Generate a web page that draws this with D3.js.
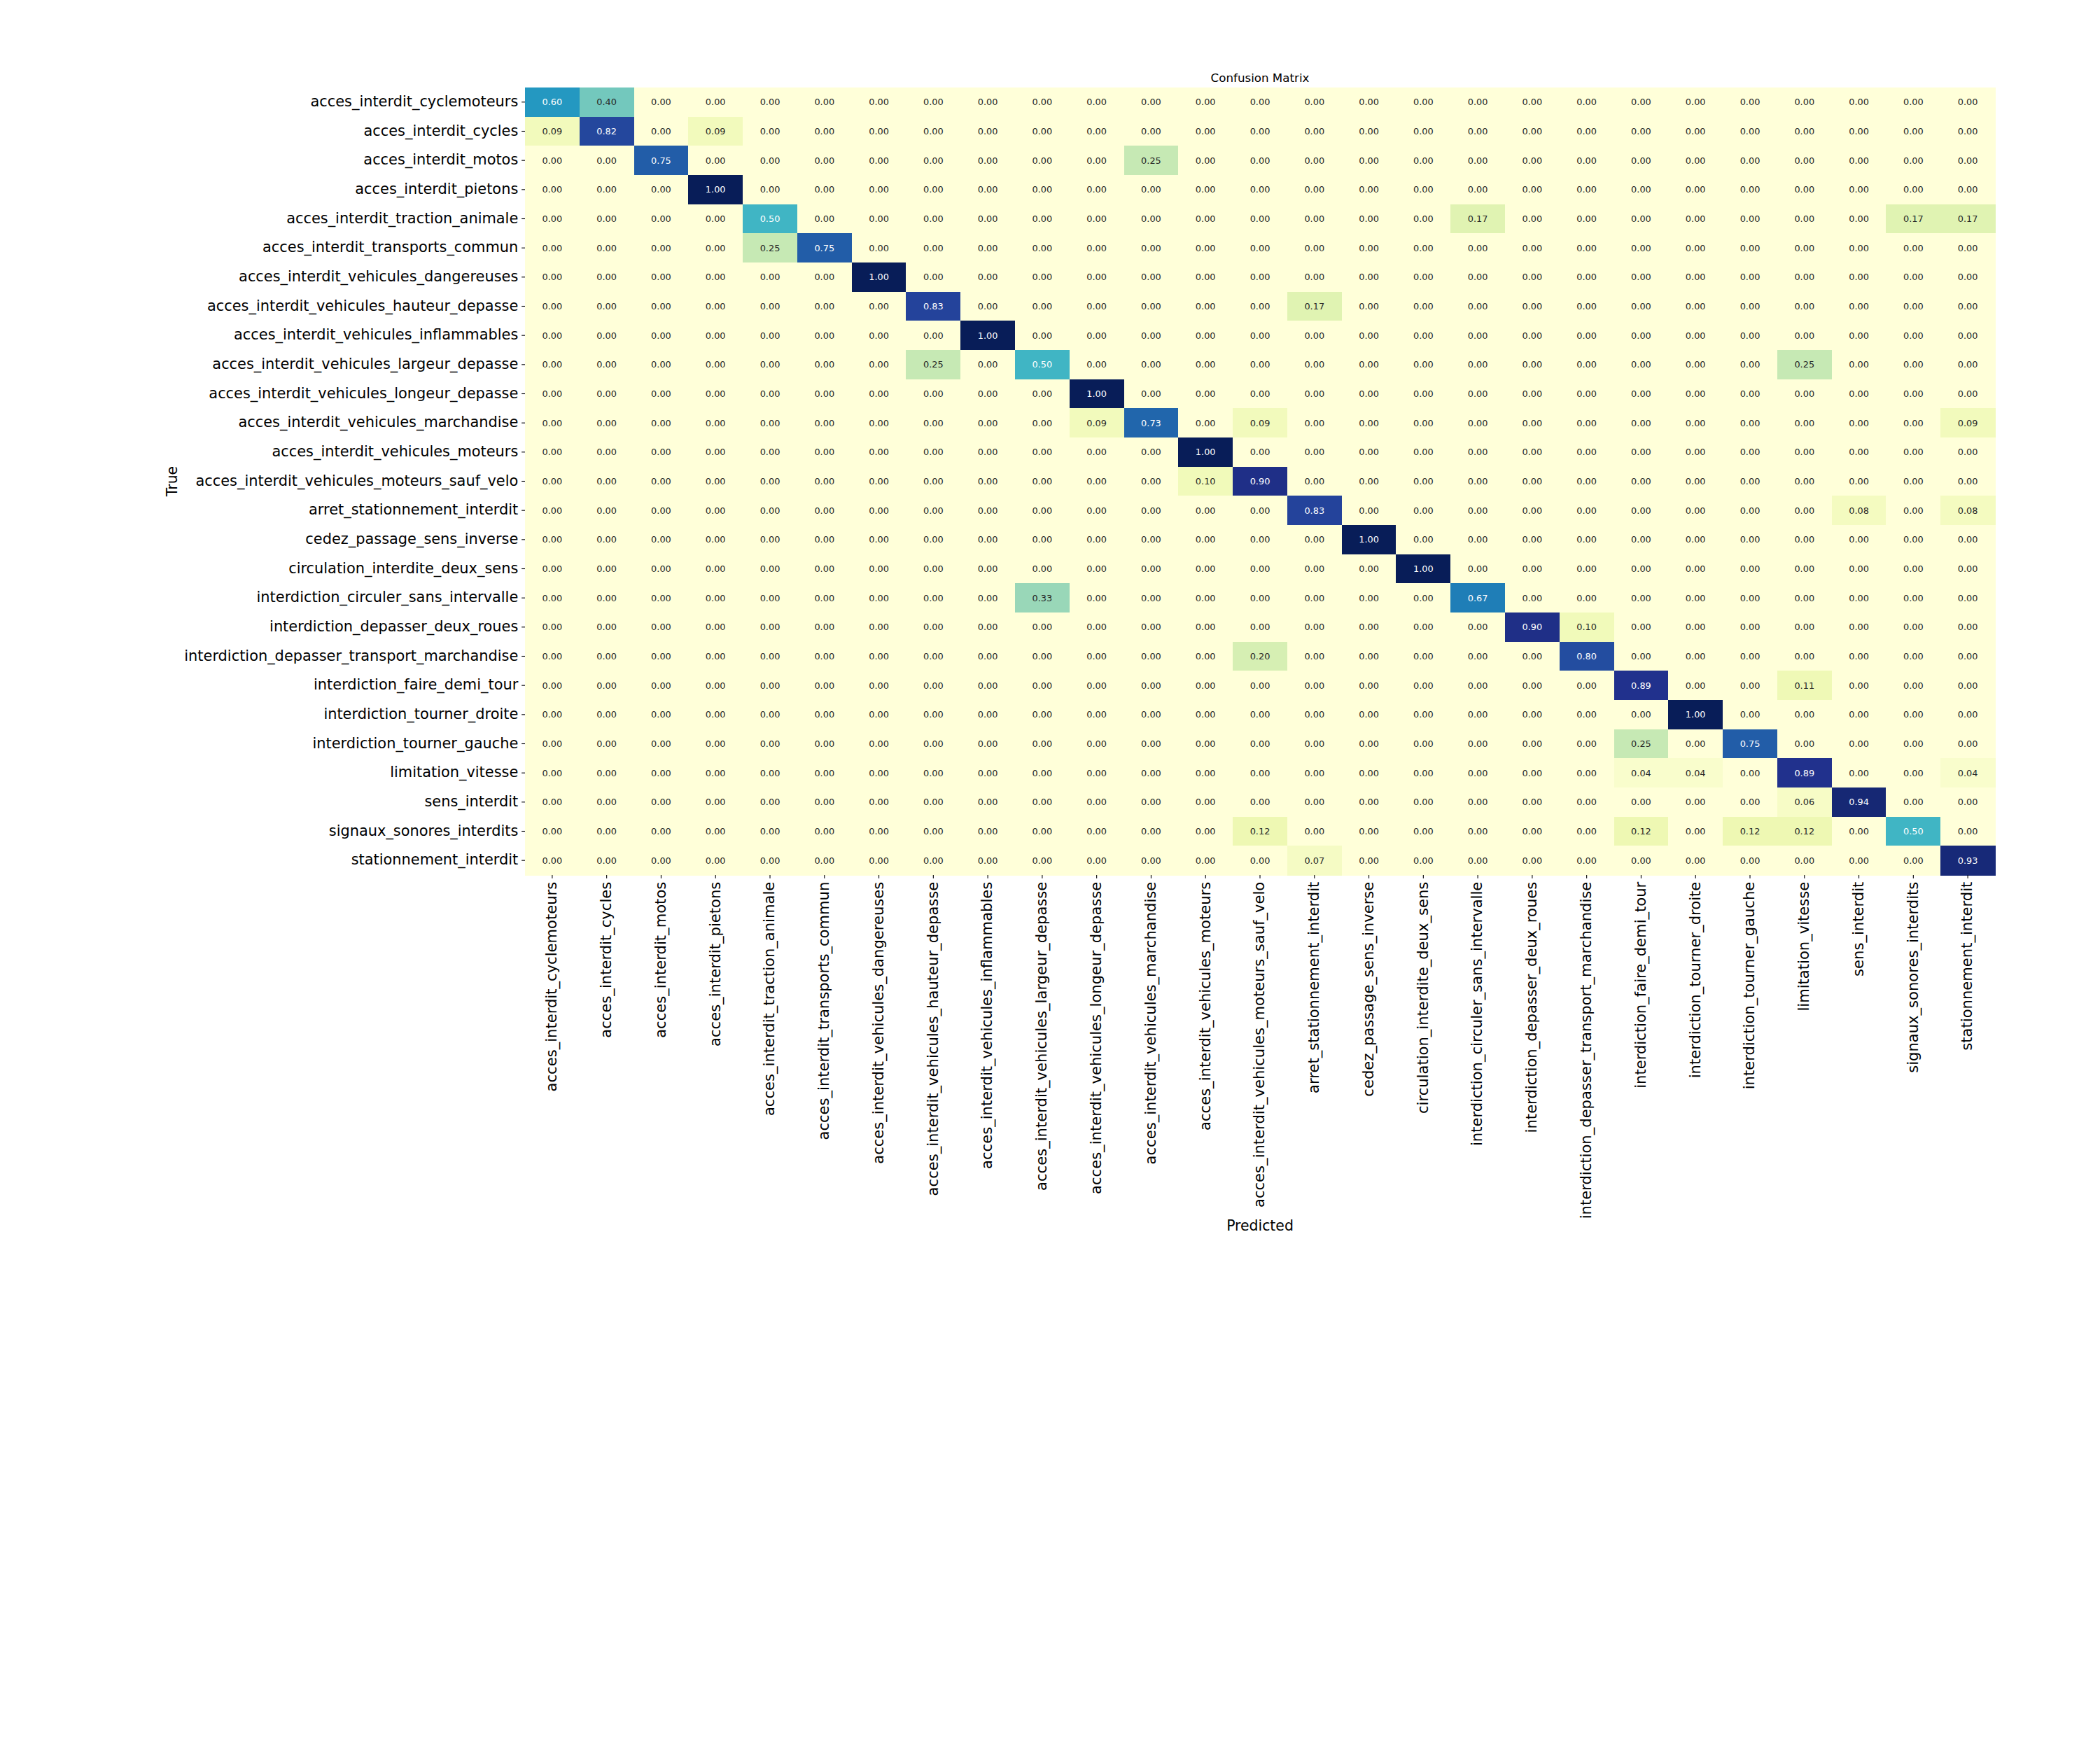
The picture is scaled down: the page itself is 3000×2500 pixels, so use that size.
<!DOCTYPE html>
<html>
<head>
<meta charset="utf-8">
<script src="https://cdn.jsdelivr.net/npm/d3@7"></script>
<style>
  html, body { margin: 0; padding: 0; background: #fff; }
  svg { display: block; }
  text { font-family: "DejaVu Sans", sans-serif; }
</style>
</head>
<body>
<script>
// ---------------- data ----------------
const classLabels = [
  "acces_interdit_cyclemoteurs",
  "acces_interdit_cycles",
  "acces_interdit_motos",
  "acces_interdit_pietons",
  "acces_interdit_traction_animale",
  "acces_interdit_transports_commun",
  "acces_interdit_vehicules_dangereuses",
  "acces_interdit_vehicules_hauteur_depasse",
  "acces_interdit_vehicules_inflammables",
  "acces_interdit_vehicules_largeur_depasse",
  "acces_interdit_vehicules_longeur_depasse",
  "acces_interdit_vehicules_marchandise",
  "acces_interdit_vehicules_moteurs",
  "acces_interdit_vehicules_moteurs_sauf_velo",
  "arret_stationnement_interdit",
  "cedez_passage_sens_inverse",
  "circulation_interdite_deux_sens",
  "interdiction_circuler_sans_intervalle",
  "interdiction_depasser_deux_roues",
  "interdiction_depasser_transport_marchandise",
  "interdiction_faire_demi_tour",
  "interdiction_tourner_droite",
  "interdiction_tourner_gauche",
  "limitation_vitesse",
  "sens_interdit",
  "signaux_sonores_interdits",
  "stationnement_interdit"
];

// rows = true class, columns = predicted class (normalised confusion matrix)
const matrixValues = [
  [0.60,0.40,0,0,0,0,0,0,0,  0,0,0,0,0,0,0,0,0,  0,0,0,0,0,0,0,0,0],
  [0.09,0.82,0,0.09,0,0,0,0,0,  0,0,0,0,0,0,0,0,0,  0,0,0,0,0,0,0,0,0],
  [0,0,0.75,0,0,0,0,0,0,  0,0,0.25,0,0,0,0,0,0,  0,0,0,0,0,0,0,0,0],
  [0,0,0,1.00,0,0,0,0,0,  0,0,0,0,0,0,0,0,0,  0,0,0,0,0,0,0,0,0],
  [0,0,0,0,0.50,0,0,0,0,  0,0,0,0,0,0,0,0,0.17,  0,0,0,0,0,0,0,0.17,0.17],
  [0,0,0,0,0.25,0.75,0,0,0,  0,0,0,0,0,0,0,0,0,  0,0,0,0,0,0,0,0,0],
  [0,0,0,0,0,0,1.00,0,0,  0,0,0,0,0,0,0,0,0,  0,0,0,0,0,0,0,0,0],
  [0,0,0,0,0,0,0,0.83,0,  0,0,0,0,0,0.17,0,0,0,  0,0,0,0,0,0,0,0,0],
  [0,0,0,0,0,0,0,0,1.00,  0,0,0,0,0,0,0,0,0,  0,0,0,0,0,0,0,0,0],
  [0,0,0,0,0,0,0,0.25,0,  0.50,0,0,0,0,0,0,0,0,  0,0,0,0,0,0.25,0,0,0],
  [0,0,0,0,0,0,0,0,0,  0,1.00,0,0,0,0,0,0,0,  0,0,0,0,0,0,0,0,0],
  [0,0,0,0,0,0,0,0,0,  0,0.09,0.73,0,0.09,0,0,0,0,  0,0,0,0,0,0,0,0,0.09],
  [0,0,0,0,0,0,0,0,0,  0,0,0,1.00,0,0,0,0,0,  0,0,0,0,0,0,0,0,0],
  [0,0,0,0,0,0,0,0,0,  0,0,0,0.10,0.90,0,0,0,0,  0,0,0,0,0,0,0,0,0],
  [0,0,0,0,0,0,0,0,0,  0,0,0,0,0,0.83,0,0,0,  0,0,0,0,0,0,0.08,0,0.08],
  [0,0,0,0,0,0,0,0,0,  0,0,0,0,0,0,1.00,0,0,  0,0,0,0,0,0,0,0,0],
  [0,0,0,0,0,0,0,0,0,  0,0,0,0,0,0,0,1.00,0,  0,0,0,0,0,0,0,0,0],
  [0,0,0,0,0,0,0,0,0,  0.33,0,0,0,0,0,0,0,0.67,  0,0,0,0,0,0,0,0,0],
  [0,0,0,0,0,0,0,0,0,  0,0,0,0,0,0,0,0,0,  0.90,0.10,0,0,0,0,0,0,0],
  [0,0,0,0,0,0,0,0,0,  0,0,0,0,0.20,0,0,0,0,  0,0.80,0,0,0,0,0,0,0],
  [0,0,0,0,0,0,0,0,0,  0,0,0,0,0,0,0,0,0,  0,0,0.89,0,0,0.11,0,0,0],
  [0,0,0,0,0,0,0,0,0,  0,0,0,0,0,0,0,0,0,  0,0,0,1.00,0,0,0,0,0],
  [0,0,0,0,0,0,0,0,0,  0,0,0,0,0,0,0,0,0,  0,0,0.25,0,0.75,0,0,0,0],
  [0,0,0,0,0,0,0,0,0,  0,0,0,0,0,0,0,0,0,  0,0,0.04,0.04,0,0.89,0,0,0.04],
  [0,0,0,0,0,0,0,0,0,  0,0,0,0,0,0,0,0,0,  0,0,0,0,0,0.06,0.94,0,0],
  [0,0,0,0,0,0,0,0,0,  0,0,0,0,0.12,0,0,0,0,  0,0,0.12,0,0.12,0.12,0,0.50,0],
  [0,0,0,0,0,0,0,0,0,  0,0,0,0,0,0.07,0,0,0,  0,0,0,0,0,0,0,0,0.93]
];

const titleText = "Confusion Matrix";
const xAxisTitle = "Predicted";
const yAxisTitle = "True";

// YlGnBu colormap anchors (ColorBrewer, as used by matplotlib)
const ylgnbuStops = ["#ffffd9","#edf8b1","#c7e9b4","#7fcdbb","#41b6c4","#1d91c0","#225ea8","#253494","#081d58"];

// ---------------- layout ----------------
const W = 3000, H = 2500;
const plot = { left: 750, right: 2850, top: 125, bottom: 1250 };
const yTickFont = 20.9, xTickFont = 21.1, annotFont = 12.9, titleFont = 16.7, axisTitleFont = 20.4;
const tickLen = 4.86, tickPad = 4.86;

const svg = d3.select("body").append("svg")
  .attr("width", W).attr("height", H)
  .attr("viewBox", `0 0 ${W} ${H}`);
svg.append("rect").attr("width", W).attr("height", H).attr("fill", "#fff");

const idx = d3.range(classLabels.length);
const x = d3.scaleBand().domain(idx).range([plot.left, plot.right]).padding(0);
const y = d3.scaleBand().domain(idx).range([plot.top, plot.bottom]).padding(0);

const vmin = d3.min(matrixValues.flat()), vmax = d3.max(matrixValues.flat());
const norm = d3.scaleLinear().domain([vmin, vmax]).range([0, 1]).clamp(true);

const stopRgb = ylgnbuStops.map(c => d3.rgb(c));
function cmap(v) {
  const t01 = norm(v);
  const i = Math.max(0, Math.min(255, Math.floor(t01 * 256)));
  const t = i / 255;
  const pos = t * (stopRgb.length - 1);
  const k = Math.min(stopRgb.length - 2, Math.floor(pos));
  const f = pos - k;
  const a = stopRgb[k], b = stopRgb[k + 1];
  return d3.rgb(a.r + (b.r - a.r) * f, a.g + (b.g - a.g) * f, a.b + (b.b - a.b) * f);
}
function luminance(c) {
  const ch = [c.r, c.g, c.b].map(v => {
    v = v / 255;
    return v <= 0.03928 ? v / 12.92 : Math.pow((v + 0.055) / 1.055, 2.4);
  });
  return 0.2126 * ch[0] + 0.7152 * ch[1] + 0.0722 * ch[2];
}

const cells = [];
matrixValues.forEach((row, r) => row.forEach((v, c) => cells.push({ r, c, v })));

const gCells = svg.append("g");
gCells.selectAll("rect").data(cells).join("rect")
  .attr("x", d => x(d.c))
  .attr("y", d => y(d.r))
  .attr("width", x.bandwidth() + 0.5)
  .attr("height", y.bandwidth() + 0.5)
  .attr("fill", d => cmap(d.v).formatHex())
  .attr("shape-rendering", "crispEdges");

const gText = svg.append("g");
gText.selectAll("text").data(cells).join("text")
  .attr("x", d => x(d.c) + x.bandwidth() / 2)
  .attr("y", d => y(d.r) + y.bandwidth() / 2)
  .attr("dy", "0.36em")
  .attr("text-anchor", "middle")
  .attr("font-size", annotFont)
  .attr("fill", d => luminance(cmap(d.v)) > 0.408 ? "#262626" : "#ffffff")
  .text(d => d.v.toFixed(2));

// ---------------- axes ----------------
const xAxis = d3.axisBottom(x).tickSize(tickLen).tickPadding(tickPad).tickFormat(i => classLabels[i]);
const gx = svg.append("g").attr("transform", `translate(0,${plot.bottom})`).call(xAxis);
gx.select(".domain").remove();
gx.selectAll(".tick line").attr("stroke", "#000").attr("stroke-width", 1.1);
gx.selectAll(".tick text")
  .attr("font-family", "DejaVu Sans, sans-serif")
  .attr("font-size", xTickFont)
  .attr("fill", "#000")
  .attr("transform", "rotate(-90)")
  .attr("text-anchor", "end")
  .attr("x", -(tickLen + tickPad))
  .attr("y", 0)
  .attr("dy", "0.3em");

const yAxis = d3.axisLeft(y).tickSize(tickLen).tickPadding(tickPad).tickFormat(i => classLabels[i]);
const gy = svg.append("g").attr("transform", `translate(${plot.left},0)`).call(yAxis);
gy.select(".domain").remove();
gy.selectAll(".tick line").attr("stroke", "#000").attr("stroke-width", 1.1);
gy.selectAll(".tick text")
  .attr("font-family", "DejaVu Sans, sans-serif")
  .attr("font-size", yTickFont)
  .attr("fill", "#000")
  .attr("dy", "0.29em");

// ---------------- titles ----------------
svg.append("text")
  .attr("x", (plot.left + plot.right) / 2)
  .attr("y", 116.7)
  .attr("text-anchor", "middle")
  .attr("font-size", titleFont)
  .attr("fill", "#000")
  .text(titleText);

svg.append("text")
  .attr("x", (plot.left + plot.right) / 2)
  .attr("y", 1758)
  .attr("text-anchor", "middle")
  .attr("font-size", axisTitleFont)
  .attr("fill", "#000")
  .text(xAxisTitle);

svg.append("text")
  .attr("transform", `translate(252.7,${(plot.top + plot.bottom) / 2}) rotate(-90)`)
  .attr("text-anchor", "middle")
  .attr("font-size", axisTitleFont)
  .attr("fill", "#000")
  .text(yAxisTitle);
</script>
</body>
</html>
